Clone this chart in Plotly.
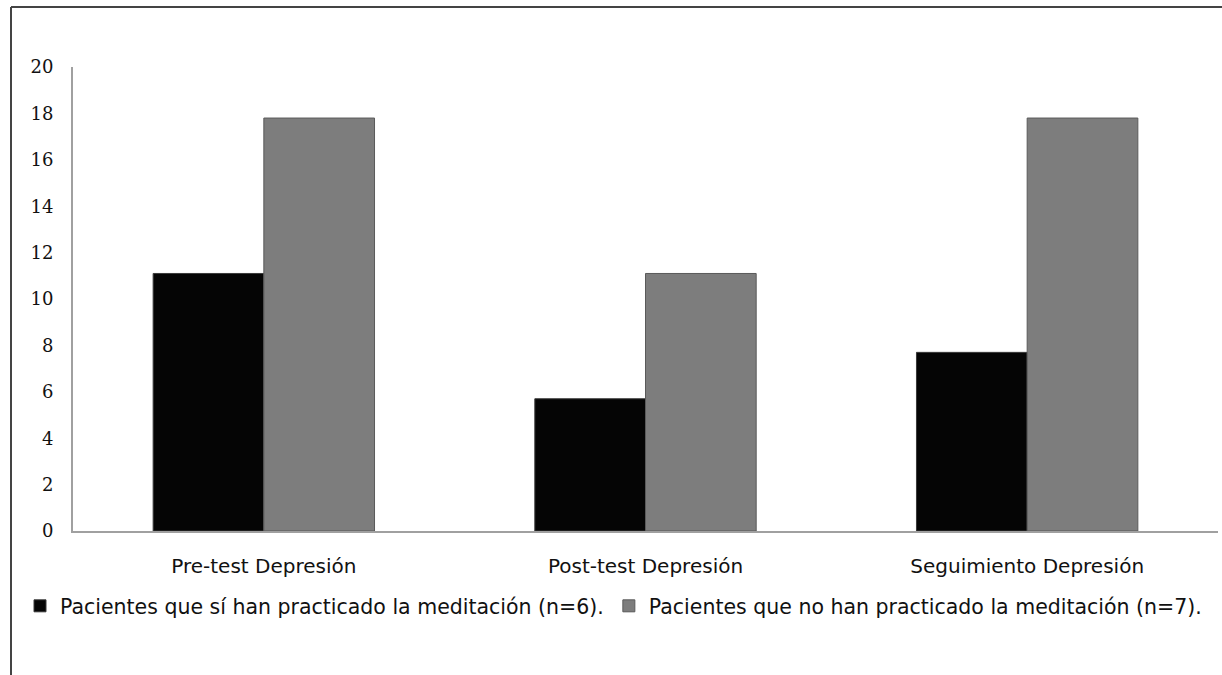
import plotly.graph_objects as go

categories = ["Pre-test Depresión", "Post-test Depresión", "Seguimiento Depresión"]
si_meditacion = [11.1, 5.7, 7.7]
no_meditacion = [17.8, 11.1, 17.8]
series_names = ["Pacientes que sí han practicado la meditación (n=6).",
                "Pacientes que no han practicado la meditación (n=7)."]
y_ticks = [0, 2, 4, 6, 8, 10, 12, 14, 16, 18, 20]

W, H = 1222, 675
L, R, T, B = 73, 4, 67, 144
pw, ph = W - L - R, H - T - B

def px(x):
    return (x - L) / pw

def py(y):
    return (H - B - y) / ph

fig = go.Figure()
fig.add_trace(go.Bar(x=categories, y=si_meditacion, name=series_names[0],
                     marker=dict(color="#050505", line=dict(color="#3a3a3a", width=1))))
fig.add_trace(go.Bar(x=categories, y=no_meditacion, name=series_names[1],
                     marker=dict(color="#7d7d7d", line=dict(color="#5a5a5a", width=1))))

fig.update_layout(
    width=W, height=H,
    margin=dict(l=L, r=R, t=T, b=B),
    paper_bgcolor="white", plot_bgcolor="white",
    barmode="group", bargap=0.42, bargroupgap=0,
    showlegend=True,
    legend=dict(orientation="h", x=px(20), y=py(606), xanchor="left", yanchor="middle",
                font=dict(family="DejaVu Sans", size=20.5, color="#111"),
                itemwidth=30, tracegroupgap=0, traceorder="normal"),
    shapes=[
        dict(type="line", xref="paper", yref="paper", x0=px(11), x1=px(1222),
             y0=py(7), y1=py(7), line=dict(color="#444", width=2)),
        dict(type="line", xref="paper", yref="paper", x0=px(11), x1=px(11),
             y0=py(7), y1=py(675), line=dict(color="#444", width=2)),
    ],
)

fig.update_xaxes(showline=True, linecolor="#a0a0a0", linewidth=2, showgrid=False,
                 ticks="", ticklabelstandoff=16,
                 tickfont=dict(family="DejaVu Sans", size=20, color="#111"))
fig.update_yaxes(range=[0, 20], tickvals=y_ticks, showline=True, linecolor="#a0a0a0",
                 linewidth=2, showgrid=False, zeroline=False, ticks="",
                 ticklabelstandoff=14,
                 tickfont=dict(family="DejaVu Serif", size=18, color="#111"))

fig.write_html("out.html", config={"displayModeBar": False},
               post_script="document.body.style.margin='0';")
